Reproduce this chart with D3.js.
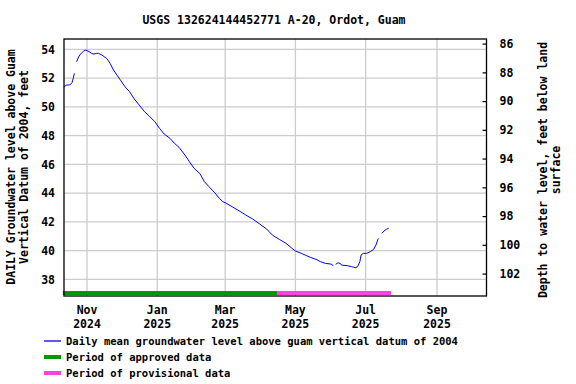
<!DOCTYPE html>
<html>
<head>
<meta charset="utf-8">
<script src="https://cdn.jsdelivr.net/npm/d3@7"></script>
<style>
  html, body { margin: 0; padding: 0; background: #fff; }
  svg { display: block; }
  text { font-family: "DejaVu Sans Mono", monospace; font-weight: bold; fill: #000; }
</style>
</head>
<body>
<svg id="chart" width="576" height="384"></svg>
<script>
// ---------- data ----------
const title = "USGS 132624144452771 A-20, Ordot, Guam";
const dates = [
  "2024-10-12","2024-10-14","2024-10-17","2024-10-19","2024-10-20","2024-10-21","2024-10-22",
  "2024-10-23","2024-10-25","2024-10-27","2024-10-29","2024-10-31","2024-11-03","2024-11-05",
  "2024-11-07","2024-11-09","2024-11-11","2024-11-14","2024-11-18","2024-11-21","2024-11-24",
  "2024-11-27","2024-11-30","2024-12-04","2024-12-08","2024-12-12","2024-12-17","2024-12-21",
  "2024-12-25","2024-12-30","2025-01-03","2025-01-07","2025-01-12","2025-01-16","2025-01-20",
  "2025-01-25","2025-01-29","2025-02-02","2025-02-07","2025-02-11","2025-02-15","2025-02-20",
  "2025-02-24","2025-02-27","2025-03-02","2025-03-07","2025-03-13","2025-03-19","2025-03-25",
  "2025-03-31","2025-04-06","2025-04-11","2025-04-17","2025-04-23","2025-04-28","2025-05-01",
  "2025-05-06","2025-05-10","2025-05-14","2025-05-19","2025-05-23","2025-05-27","2025-06-01",
  "2025-06-03","2025-06-04","2025-06-05","2025-06-07","2025-06-09","2025-06-10","2025-06-15",
  "2025-06-19","2025-06-22","2025-06-24","2025-06-26","2025-06-27","2025-06-29","2025-07-02",
  "2025-07-05","2025-07-08","2025-07-10","2025-07-12","2025-07-13","2025-07-15","2025-07-17",
  "2025-07-19","2025-07-21"
];
const levels = [
  51.36,51.52,51.52,51.68,51.98,52.33,null,
  53.14,53.53,53.72,53.88,53.95,53.83,53.72,
  53.67,53.72,53.72,53.60,53.37,53.03,52.56,
  52.21,51.86,51.40,51.05,50.55,50.06,49.66,
  49.36,48.96,48.50,48.11,47.81,47.46,47.18,
  46.65,46.18,45.72,45.36,44.79,44.44,44.02,
  43.63,43.40,43.29,43.05,42.77,42.47,42.19,
  41.85,41.50,41.08,40.78,40.50,40.16,39.97,
  39.81,39.67,39.53,39.39,39.22,39.11,39.06,
  38.95,null,39.04,39.15,39.11,38.99,38.95,
  38.88,38.81,38.88,39.22,39.69,39.81,39.81,
  39.92,40.09,40.39,40.85,null,41.20,41.36,
  41.48,41.55
];
const landSurface = 140.4;
const leftTicks = [38, 40, 42, 44, 46, 48, 50, 52, 54];
const rightTicks = [86, 88, 90, 92, 94, 96, 98, 100, 102];
const xTickDates = ["2024-11-01","2025-01-01","2025-03-01","2025-05-01","2025-07-01","2025-09-01"];
const xDomain = ["2024-10-12","2025-10-14"];
const yDomain = [36.84, 54.72];
const approvedPeriod = ["2024-10-11","2025-04-15"];
const provisionalPeriod = ["2025-04-15","2025-07-23"];
const leftTitle = ["DAILY Groundwater level above Guam", "Vertical Datum of 2004, feet"];
const rightTitle = ["Depth to water level, feet below land", "surface"];
const legendItems = [
  {label: "Daily mean groundwater level above guam vertical datum of 2004", color: "#0000ff", kind: "line"},
  {label: "Period of approved data", color: "#009900", kind: "bar"},
  {label: "Period of provisional data", color: "#ff44dd", kind: "bar"}
];

// ---------- layout ----------
const parse = d3.utcParse("%Y-%m-%d");
const L = 64, R = 486.5, T = 39, B = 296;
const svg = d3.select("#chart");

const x = d3.scaleUtc().domain(xDomain.map(parse)).range([L, R]);
const y = d3.scaleLinear().domain(yDomain).range([B, T]);
const yR = d3.scaleLinear().domain([landSurface - yDomain[0], landSurface - yDomain[1]]).range([B, T]);

const data = dates.map((d, i) => ({date: parse(d), v: levels[i]}));

// title
svg.append("text").attr("x", 274).attr("y", 24).attr("text-anchor", "middle")
  .style("font-size", "11.5px").text(title);

// grid
const grid = svg.append("g").attr("stroke", "#cccccc").attr("stroke-width", 1.3);
leftTicks.forEach(t => {
  grid.append("line").attr("x1", L).attr("x2", R).attr("y1", y(t)).attr("y2", y(t));
});
xTickDates.forEach(t => {
  grid.append("line").attr("x1", x(parse(t))).attr("x2", x(parse(t))).attr("y1", T).attr("y2", B);
});

// approval bars
const barY = 291, barH = 4;
svg.append("rect").attr("x", x(parse(approvedPeriod[0]))).attr("y", barY)
  .attr("width", x(parse(approvedPeriod[1])) - x(parse(approvedPeriod[0]))).attr("height", barH)
  .attr("fill", legendItems[1].color);
svg.append("rect").attr("x", x(parse(provisionalPeriod[0]))).attr("y", barY)
  .attr("width", x(parse(provisionalPeriod[1])) - x(parse(provisionalPeriod[0]))).attr("height", barH)
  .attr("fill", legendItems[2].color);

// data line
const line = d3.line().defined(d => d.v !== null).x(d => x(d.date)).y(d => y(d.v));
svg.append("path").datum(data).attr("d", line).attr("fill", "none")
  .attr("stroke", legendItems[0].color).attr("stroke-width", 1);

// frame
svg.append("rect").attr("x", L).attr("y", T).attr("width", R - L).attr("height", B - T)
  .attr("fill", "none").attr("stroke", "#000").attr("stroke-width", 1.3);

// left axis labels
const leftAxis = d3.axisLeft(y).tickValues(leftTicks).tickSize(0).tickPadding(9);
const gl = svg.append("g").attr("transform", `translate(${L},0)`).call(leftAxis);
gl.select(".domain").remove();
gl.selectAll("text").style("font-size", "11.5px").style("font-family", "DejaVu Sans Mono").style("font-weight", "bold");

// right axis
const rightAxis = d3.axisRight(yR).tickValues(rightTicks).tickSize(-4).tickPadding(13);
const gr = svg.append("g").attr("transform", `translate(${R},0)`).call(rightAxis);
gr.select(".domain").remove();
gr.selectAll("line").attr("stroke", "#000").attr("stroke-width", 1.2);
gr.selectAll("text").style("font-size", "11.5px").style("font-family", "DejaVu Sans Mono").style("font-weight", "bold");

// bottom axis labels (two lines)
const fmtM = d3.utcFormat("%b"), fmtY = d3.utcFormat("%Y");
const bx = svg.append("g");
xTickDates.forEach(t => {
  const d = parse(t);
  const tx = bx.append("text").attr("x", x(d)).attr("y", 314).attr("text-anchor", "middle")
    .style("font-size", "11.5px");
  tx.append("tspan").attr("x", x(d)).attr("dy", 0).text(fmtM(d));
  tx.append("tspan").attr("x", x(d)).attr("dy", 13.5).text(fmtY(d));
});

// left title
const lt = svg.append("text").attr("transform", "translate(15,167) rotate(-90)")
  .attr("text-anchor", "middle").style("font-size", "11.5px");
lt.append("tspan").attr("x", 0).attr("dy", 0).text(leftTitle[0]);
lt.append("tspan").attr("x", 0).attr("dy", 12.5).text(leftTitle[1]);

// right title
const rt = svg.append("text").attr("transform", "translate(547,170) rotate(-90)")
  .attr("text-anchor", "middle").style("font-size", "11.5px");
rt.append("tspan").attr("x", 0).attr("dy", 0).text(rightTitle[0]);
rt.append("tspan").attr("x", 0).attr("dy", 12.5).text(rightTitle[1]);

// legend
legendItems.forEach((it, i) => {
  const cy = 341 + i * 16;
  if (it.kind === "line") {
    svg.append("line").attr("x1", 44).attr("x2", 61).attr("y1", cy).attr("y2", cy)
      .attr("stroke", it.color).attr("stroke-width", 1.3);
  } else {
    svg.append("rect").attr("x", 44).attr("y", cy - 2).attr("width", 17).attr("height", 4)
      .attr("fill", it.color);
  }
  svg.append("text").attr("x", 66).attr("y", cy + 4).style("font-size", "10.5px").text(it.label);
});
</script>
</body>
</html>
